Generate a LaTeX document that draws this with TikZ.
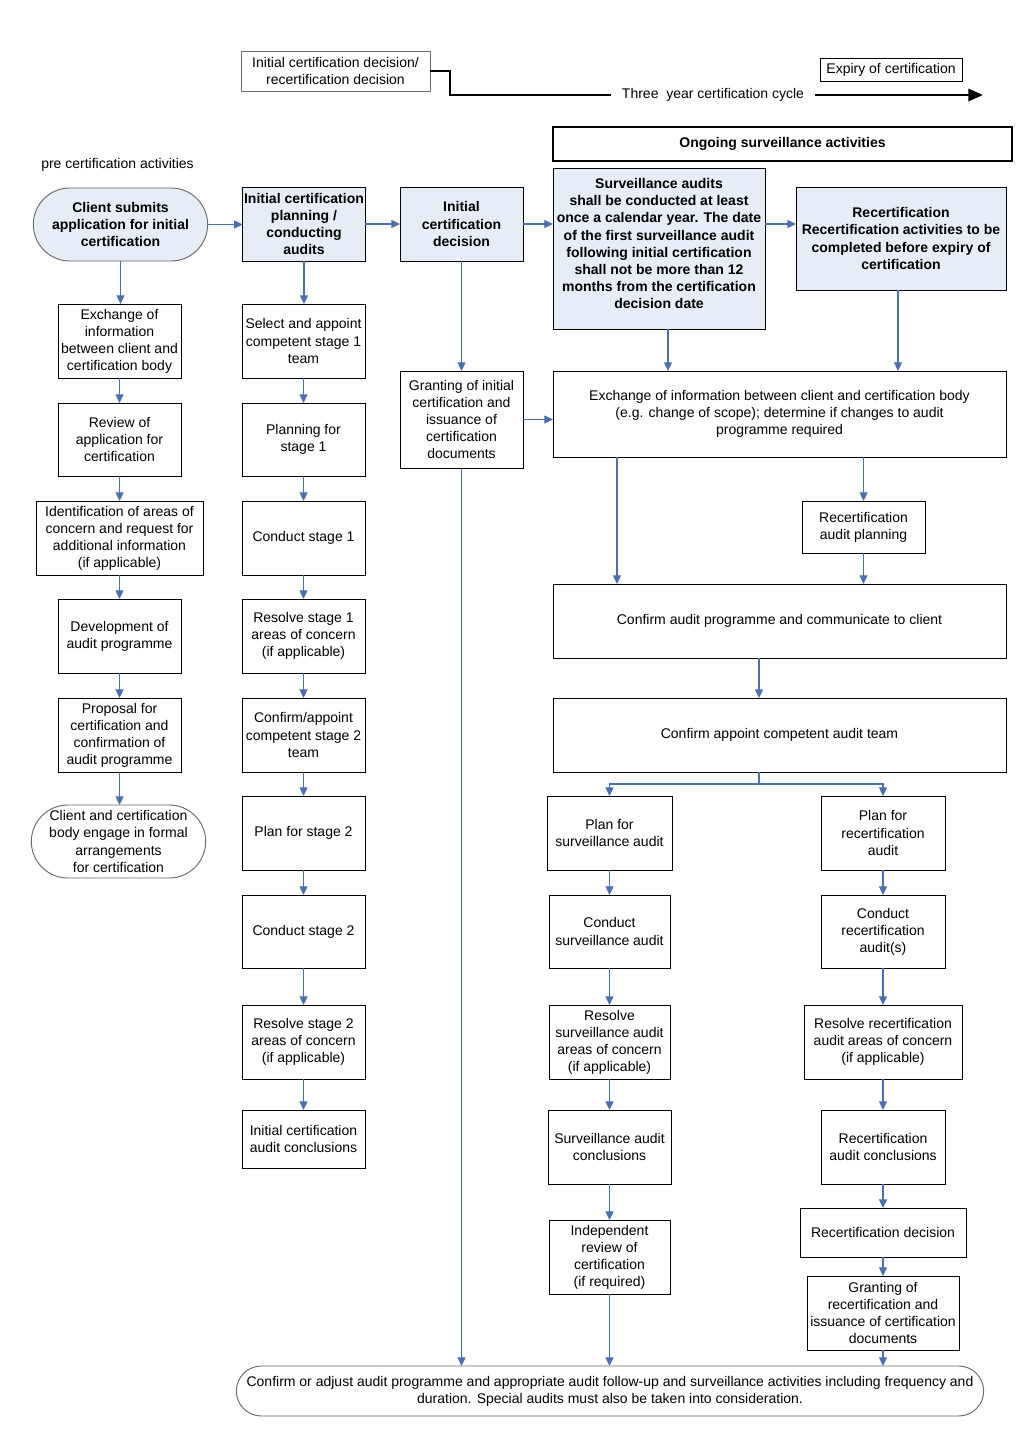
\documentclass[tikz,border=0pt]{standalone}
\usepackage{fontspec}
\setmainfont{Liberation Sans}
\usetikzlibrary{arrows.meta,shapes.misc}
\definecolor{arrblue}{RGB}{74,112,176}
\definecolor{boxfill}{RGB}{231,237,247}
\definecolor{rimgray}{RGB}{105,105,105}
\newcommand\myfs{\fontsize{10.5}{12.8}\selectfont}
\tikzset{
  rect/.style n args={4}{minimum width={(#3-#1)*0.75pt}, minimum height={(#4-#2)*0.75pt}, at={({(#1+#3)/2},{(#2+#4)/2})}},
  bx/.style={draw, line width=0.7pt, align=center, inner sep=1pt, outer sep=0pt, font=\myfs},
  bluebx/.style={bx, fill=boxfill, font=\myfs\bfseries},
  stad/.style={draw=rimgray, rounded rectangle, line width=0.7pt, align=center, inner sep=1pt, outer sep=0pt, font=\myfs},
  arr/.style={draw=arrblue, line width=0.9pt, -{Triangle[width=6pt,length=6.5pt]}},
  ln/.style={draw=arrblue, line width=0.9pt},
  thickln/.style={draw=black, line width=2.2pt},
}
\begin{document}
\begin{tikzpicture}[x=0.75pt,y=-0.75pt]
\path[use as bounding box, fill=white] (0,0) rectangle (1029,1444);

% top strip
\node[bx, draw=rimgray, rect={241}{51}{430}{91}] (icd) {Initial certification decision/\\recertification decision};
\node[bx, line width=0.6pt, rect={820}{58}{962}{81}] (exp) {Expiry of certification};
\node[font=\myfs, inner xsep=8pt, inner ysep=1pt] (cyc) at (713,95) {Three\ \ year certification cycle};
\coordinate (cycend) at (983,95);
\draw[thickln] (icd.east) -- ++(20,0) |- (cyc.west);
\draw[thickln, -{Triangle[width=9pt,length=11pt]}] (cyc.east) -- (cycend);
\node[draw, line width=2.2pt, font=\myfs\bfseries, rect={553}{127}{1012}{161}] (ongo) {Ongoing surveillance activities};
\node[font=\myfs, anchor=west, inner sep=0pt] (pre) at (41,165) {pre certification activities};

% first row
\node[stad, fill=boxfill, font=\myfs\bfseries, rect={32}{188}{209}{261}] (client) {Client submits\\application for initial\\certification};
\node[bluebx, rect={243}{187}{365}{261}] (plan) {Initial certification\\planning /\\conducting\\audits};
\node[bluebx, rect={400}{187}{523}{261}] (dec) {Initial\\certification\\decision};
\node[bluebx, rect={553}{168}{765}{329}] (surv) {Surveillance audits\\shall be conducted at least\\once a calendar year. The date\\of the first surveillance audit\\following initial certification\\shall not be more than 12\\months from the certification\\decision date\\[-5.3pt]\mbox{}};
\node[bluebx, rect={796}{187}{1006}{290}] (recert) {Recertification\\Recertification activities to be\\completed before expiry of\\certification};

% column 1
\node[bx, rect={58}{304}{181}{378}] (ex1) {Exchange of\\information\\between client and\\certification body};
\node[bx, rect={58}{403}{181}{476}] (rev) {Review of\\application for\\certification};
\node[bx, rect={36}{501}{203}{575}] (ident) {Identification of areas of\\concern and request for\\additional information\\(if applicable)};
\node[bx, rect={58}{599}{181}{673}] (dev) {Development of\\audit programme};
\node[bx, rect={58}{698}{181}{772}] (prop) {Proposal for\\certification and\\confirmation of\\audit programme};
\node[stad, rect={30}{805}{207}{878}] (engage) {Client and certification\\body engage in formal\\arrangements\\for certification};

% column 2
\node[bx, rect={242}{304}{365}{378}] (sel) {Select and appoint\\competent stage 1\\team};
\node[bx, rect={242}{403}{365}{476}] (pl1) {Planning for\\stage 1};
\node[bx, rect={242}{501}{365}{575}] (c1) {Conduct stage 1};
\node[bx, rect={242}{599}{365}{673}] (r1) {Resolve stage 1\\areas of concern\\(if applicable)};
\node[bx, rect={242}{698}{365}{772}] (ca2) {Confirm/appoint\\competent stage 2\\team};
\node[bx, rect={242}{796}{365}{870}] (p2) {Plan for stage 2};
\node[bx, rect={242}{895}{365}{968}] (c2) {Conduct stage 2};
\node[bx, rect={242}{1005}{365}{1079}] (r2) {Resolve stage 2\\areas of concern\\(if applicable)};
\node[bx, rect={242}{1110}{365}{1168}] (concl) {Initial certification\\audit conclusions};

% column 3
\node[bx, rect={400}{371}{523}{468}] (grant) {Granting of initial\\certification and\\issuance of\\certification\\documents};

% right part
\node[bx, rect={553}{371}{1006}{457}] (exch) {Exchange of information between client and certification body\\(e.g. change of scope); determine if changes to audit\\programme required};
\node[bx, rect={802}{501}{925}{553}] (rap) {Recertification\\audit planning};
\node[bx, rect={553}{584}{1006}{658}] (cap) {Confirm audit programme and communicate to client};
\node[bx, rect={553}{698}{1006}{772}] (cat) {Confirm appoint competent audit team};
\node[bx, rect={547}{796}{672}{870}] (pfs) {Plan for\\surveillance audit};
\node[bx, rect={821}{796}{945}{870}] (pfr) {Plan for\\recertification\\audit};
\node[bx, rect={549}{895}{670}{968}] (cs) {Conduct\\surveillance audit};
\node[bx, rect={821}{895}{945}{968}] (cr) {Conduct\\recertification\\audit(s)};
\node[bx, rect={549}{1005}{670}{1079}] (rs) {Resolve\\surveillance audit\\areas of concern\\(if applicable)};
\node[bx, rect={804}{1005}{962}{1079}] (rr) {Resolve recertification\\audit areas of concern\\(if applicable)};
\node[bx, rect={548}{1110}{671}{1184}] (sac) {Surveillance audit\\conclusions};
\node[bx, rect={821}{1110}{945}{1184}] (rac) {Recertification\\audit conclusions};
\node[bx, rect={549}{1220}{670}{1294}] (ir) {Independent\\review of\\certification\\(if required)};
\node[bx, rect={800}{1208}{966}{1257}] (rd) {Recertification decision};
\node[bx, rect={807}{1276}{959}{1350}] (gr) {Granting of\\recertification and\\issuance of certification\\documents};
\node[stad, rect={235}{1366}{985}{1416}] (bot) {Confirm or adjust audit programme and appropriate audit follow-up and surveillance activities including frequency and\\duration. Special audits must also be taken into consideration.};

% helper coordinates
\coordinate (x617) at (617,0);
\coordinate (x668) at (668,0);
\coordinate (x898) at (898,0);
\coordinate (split) at (759,784);

% horizontal connectors of the first row
\draw[arr] (client.east) -- (client.east -| plan.west);
\draw[arr] (plan.east) -- (plan.east -| dec.west);
\draw[arr] (dec.east) -- (dec.east -| surv.west);
\draw[arr] (surv.east |- dec.east) -- (recert.west |- dec.east);

% vertical chains
\foreach \a/\b in {client/ex1, ex1/rev, rev/ident, ident/dev, dev/prop, prop/engage,
                   plan/sel, sel/pl1, pl1/c1, c1/r1, r1/ca2, ca2/p2, p2/c2, c2/r2, r2/concl,
                   dec/grant, rap/cap,
                   pfs/cs, cs/rs, rs/sac, sac/ir, ir/bot,
                   pfr/cr, cr/rr, rr/rac, rac/rd, rd/gr, gr/bot, grant/bot}
  \draw[arr] (\a.south) -- (\a.south |- \b.north);

\draw[arr] (grant.east) -- (grant.east -| exch.west);
\draw[arr] (x668 |- surv.south) -- (x668 |- exch.north);
\draw[arr] (x898 |- recert.south) -- (x898 |- exch.north);
\draw[arr] (x617 |- exch.south) -- (x617 |- cap.north);
\draw[arr] (rap.north |- exch.south) -- (rap.north);
\draw[arr] (split |- cap.south) -- (split |- cat.north);
\draw[ln] (split |- cat.south) -- (split);
\draw[arr] (split) -| (pfs.north);
\draw[arr] (split) -| (pfr.north);
\end{tikzpicture}
\end{document}
